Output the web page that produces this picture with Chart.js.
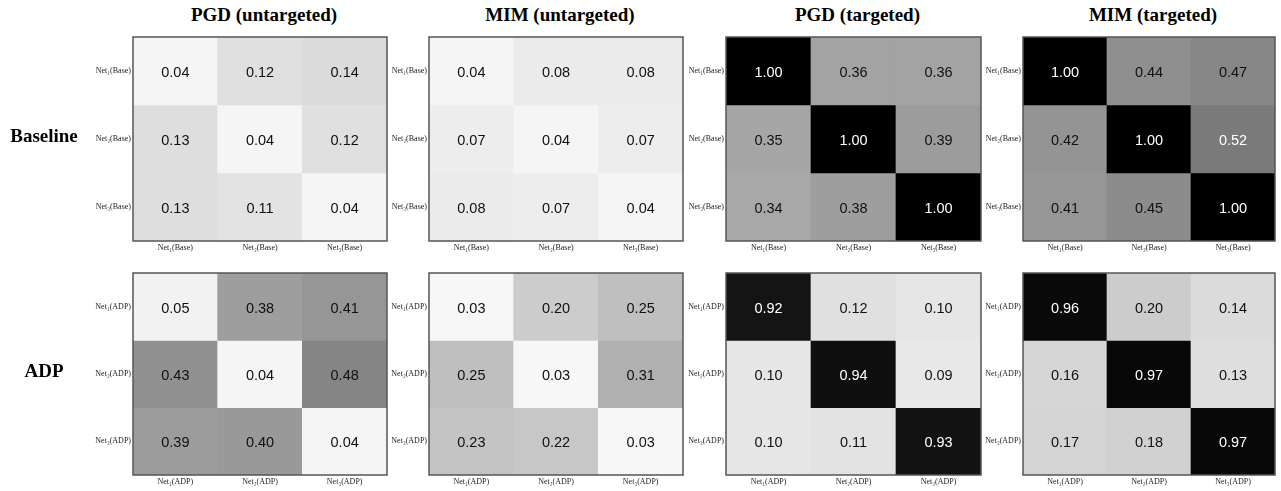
<!DOCTYPE html>
<html>
<head>
<meta charset="utf-8">
<script src="https://cdn.jsdelivr.net/npm/chart.js@4"></script>
<style>
  body { margin: 0; background: #fff; width: 1281px; height: 491px; overflow: hidden; position: relative; }
  canvas { position: absolute; }
  .title { position: absolute; font: bold 19px "Liberation Serif", serif; color: #000; text-align: center; white-space: nowrap; }
  .rowlab { position: absolute; font: bold 19px "Liberation Serif", serif; color: #000; text-align: center; width: 88px; }
</style>
</head>
<body>
<script>
/*************************  Data  **************************/
var columnTitles = ['PGD (untargeted)', 'MIM (untargeted)', 'PGD (targeted)', 'MIM (targeted)'];
var rowTitles = ['Baseline', 'ADP'];
var baseLabels = ['Net\u2081(Base)', 'Net\u2082(Base)', 'Net\u2083(Base)'];
var adpLabels = ['Net\u2081(ADP)', 'Net\u2082(ADP)', 'Net\u2083(ADP)'];

var pgdUntargetedBase = [[0.04, 0.12, 0.14], [0.13, 0.04, 0.12], [0.13, 0.11, 0.04]];
var mimUntargetedBase = [[0.04, 0.08, 0.08], [0.07, 0.04, 0.07], [0.08, 0.07, 0.04]];
var pgdTargetedBase   = [[1.00, 0.36, 0.36], [0.35, 1.00, 0.39], [0.34, 0.38, 1.00]];
var mimTargetedBase   = [[1.00, 0.44, 0.47], [0.42, 1.00, 0.52], [0.41, 0.45, 1.00]];
var pgdUntargetedAdp  = [[0.05, 0.38, 0.41], [0.43, 0.04, 0.48], [0.39, 0.40, 0.04]];
var mimUntargetedAdp  = [[0.03, 0.20, 0.25], [0.25, 0.03, 0.31], [0.23, 0.22, 0.03]];
var pgdTargetedAdp    = [[0.92, 0.12, 0.10], [0.10, 0.94, 0.09], [0.10, 0.11, 0.93]];
var mimTargetedAdp    = [[0.96, 0.20, 0.14], [0.16, 0.97, 0.13], [0.17, 0.18, 0.97]];

/************************  Layout  *************************/
var plotLefts = [133, 429, 726, 1023];
var plotWidths = [254, 254, 255, 252];
var rowTops = [37, 273];
var rowHeights = [204, 202];
var yAxisW = 46, xAxisH = 16, padTop = 2, padRight = 3;

function grayOf(v) {
    var g = Math.round(255 * (1 - v));
    return 'rgb(' + g + ',' + g + ',' + g + ')';
}

var cellText = {
    id: 'cellText',
    afterDatasetsDraw: function(chart) {
        var ctx = chart.ctx;
        ctx.save();
        ctx.font = '14.5px "Liberation Sans", Arial, sans-serif';
        ctx.textAlign = 'center';
        ctx.textBaseline = 'middle';
        chart.data.datasets.forEach(function(ds, i) {
            chart.getDatasetMeta(i).data.forEach(function(el, j) {
                var v = ds.values[j];
                ctx.fillStyle = v > 0.5 ? '#fff' : '#111';
                ctx.fillText(v.toFixed(2), el.x, (el.y + el.base) / 2 + 2);
            });
        });
        ctx.restore();
    }
};

var frame = {
    id: 'frame',
    afterDraw: function(chart) {
        var a = chart.chartArea, ctx = chart.ctx;
        ctx.save();
        ctx.strokeStyle = '#555';
        ctx.lineWidth = 1.5;
        ctx.strokeRect(a.left, a.top, a.right - a.left, a.bottom - a.top);
        ctx.restore();
    }
};

function makeHeatmap(col, row, values, labels) {
    var cv = document.createElement('canvas');
    var w = yAxisW + plotWidths[col] + padRight;
    var h = padTop + rowHeights[row] + xAxisH;
    cv.width = w; cv.height = h;
    cv.style.left = (plotLefts[col] - yAxisW) + 'px';
    cv.style.top = (rowTops[row] - padTop) + 'px';
    document.body.appendChild(cv);

    var datasets = values.map(function(r, ri) {
        return {
            data: r.map(function() { return [ri, ri + 1]; }),
            values: r,
            backgroundColor: r.map(grayOf),
            borderWidth: 0,
            barPercentage: 1,
            categoryPercentage: 1,
            grouped: false
        };
    });
    var tickFont = { family: '"Liberation Serif", "DejaVu Serif", serif', size: 8 };
    new Chart(cv, {
        type: 'bar',
        data: { labels: labels, datasets: datasets },
        options: {
            responsive: false,
            animation: false,
            layout: { padding: { top: padTop, right: padRight, left: 0, bottom: 0 } },
            plugins: { legend: { display: false }, tooltip: { enabled: false } },
            scales: {
                x: {
                    grid: { display: false, drawTicks: false },
                    border: { display: false },
                    ticks: { font: tickFont, color: '#222', maxRotation: 0, autoSkip: false, padding: 2 },
                    afterFit: function(s) { s.height = xAxisH; s.paddingLeft = 0; s.paddingRight = 0; }
                },
                y: {
                    type: 'linear',
                    min: 0, max: 3,
                    reverse: true,
                    grid: { display: false, drawTicks: false },
                    border: { display: false },
                    afterBuildTicks: function(s) { s.ticks = [{ value: 0.5 }, { value: 1.5 }, { value: 2.5 }]; },
                    ticks: {
                        font: tickFont, color: '#222', padding: 2,
                        callback: function(v) { return labels[Math.floor(v)]; }
                    },
                    afterFit: function(s) { s.width = yAxisW; s.paddingTop = 0; s.paddingBottom = 0; }
                }
            }
        },
        plugins: [cellText, frame]
    });
}

var panels = [
    [pgdUntargetedBase, mimUntargetedBase, pgdTargetedBase, mimTargetedBase],
    [pgdUntargetedAdp, mimUntargetedAdp, pgdTargetedAdp, mimTargetedAdp]
];
var rowTickLabels = [baseLabels, adpLabels];

panels.forEach(function(rowPanels, r) {
    rowPanels.forEach(function(vals, c) {
        makeHeatmap(c, r, vals, rowTickLabels[r]);
    });
});

// Column titles
columnTitles.forEach(function(t, c) {
    var d = document.createElement('div');
    d.className = 'title';
    d.textContent = t;
    d.style.left = (plotLefts[c] + 4) + 'px';
    d.style.width = plotWidths[c] + 'px';
    d.style.top = '4px';
    document.body.appendChild(d);
});
// Row titles
rowTitles.forEach(function(t, r) {
    var d = document.createElement('div');
    d.className = 'rowlab';
    d.textContent = t;
    d.style.left = '0px';
    d.style.top = (rowTops[r] + rowHeights[r] / 2 - 14) + 'px';
    document.body.appendChild(d);
});
</script>
</body>
</html>
